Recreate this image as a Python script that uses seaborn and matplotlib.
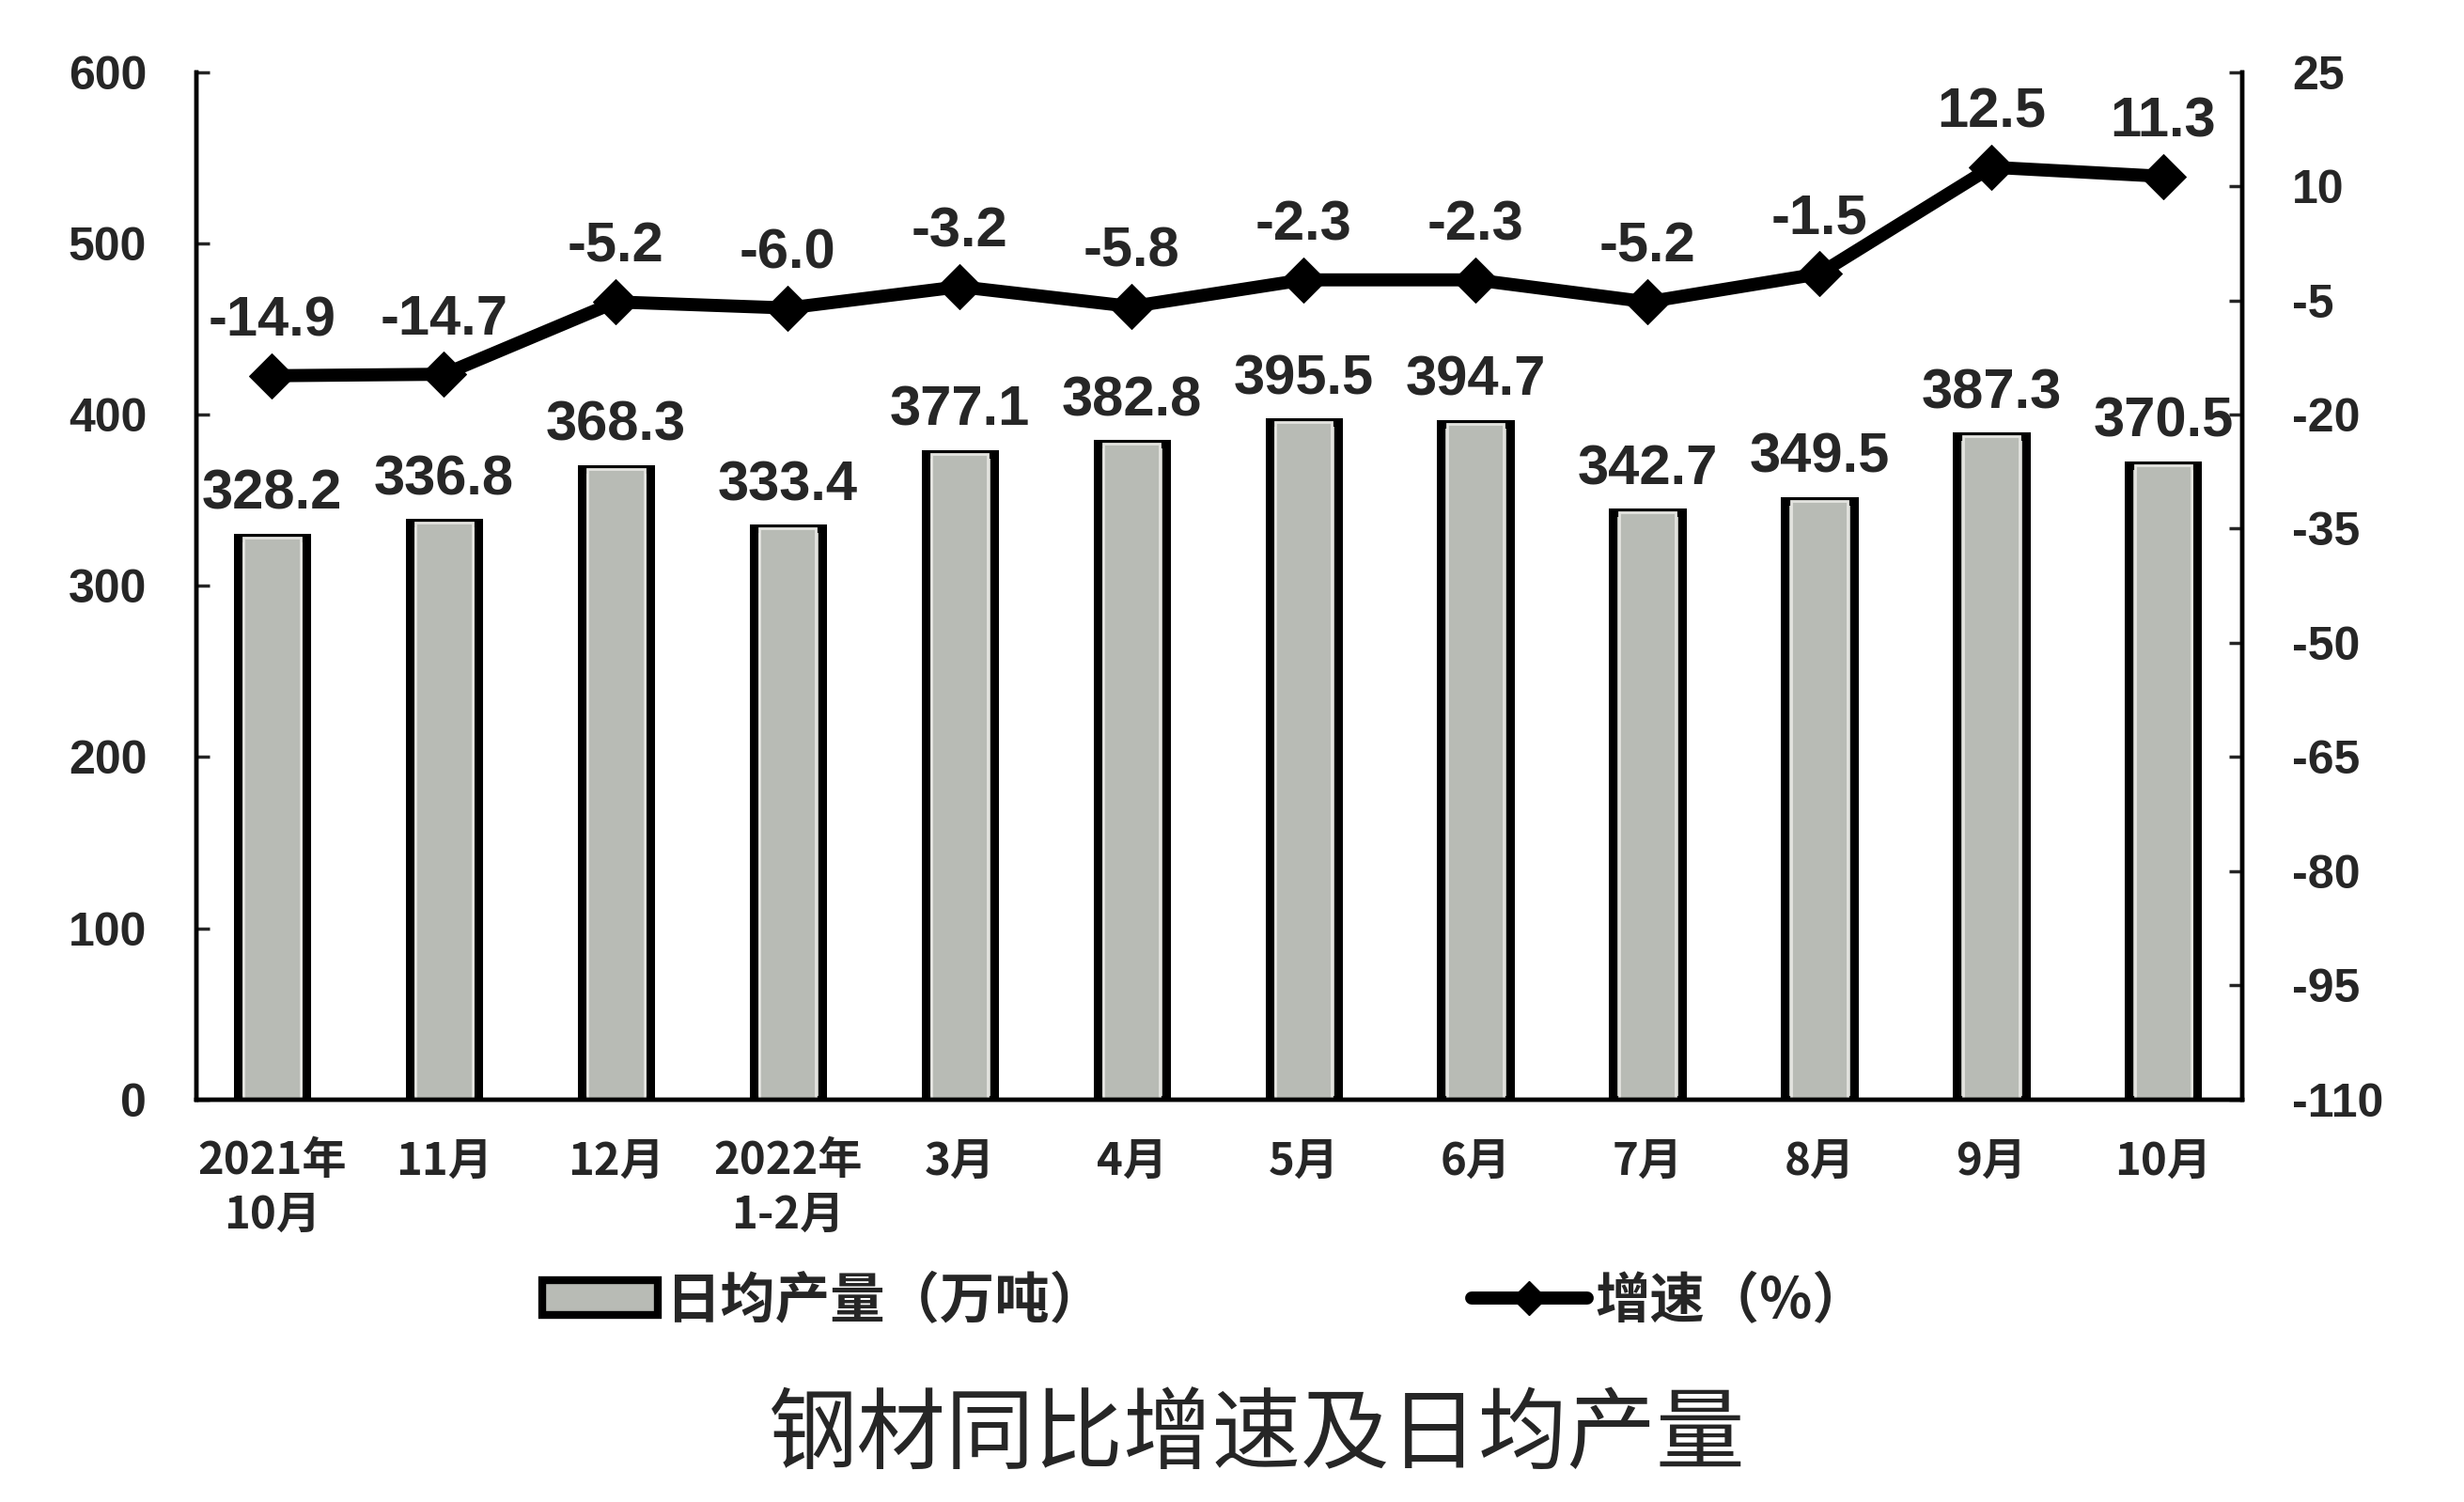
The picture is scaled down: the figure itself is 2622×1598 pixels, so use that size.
import numpy as np
import matplotlib
matplotlib.use('Agg')
import matplotlib.pyplot as plt
import seaborn as sns
from matplotlib.patches import Patch
from matplotlib.lines import Line2D

months = ['2021年\n10月', '11月', '12月', '2022年\n1-2月', '3月', '4月',
          '5月', '6月', '7月', '8月', '9月', '10月']
daily_output = [328.2, 336.8, 368.3, 333.4, 377.1, 382.8, 395.5, 394.7, 342.7, 349.5, 387.3, 370.5]
growth = [-14.9, -14.7, -5.2, -6.0, -3.2, -5.8, -2.3, -2.3, -5.2, -1.5, 12.5, 11.3]

sns.set_style("white")
plt.rcParams['font.family'] = ['Liberation Sans', 'Noto Sans CJK SC', 'DejaVu Sans']
plt.rcParams['axes.unicode_minus'] = False
cjk = ['Noto Sans CJK SC', 'DejaVu Sans']
bar_color = '#b8bbb5'

fig = plt.figure(figsize=(26.22, 15.98), dpi=100)
ax = fig.add_axes([0.0797, 0.268, 0.8303, 0.684])

# outer bars with thick black edge, then a light inner rim like the scan
sns.barplot(x=months, y=daily_output, ax=ax, color=bar_color, saturation=1,
            edgecolor='black', linewidth=6.5, width=0.4)
ax.bar_label(ax.containers[0], fmt='%.1f', padding=13, fontsize=43, fontweight='bold')
sns.barplot(x=months, y=daily_output, ax=ax, color=bar_color, saturation=1,
            edgecolor='#e4e4e0', linewidth=2, width=0.33)

ax2 = ax.twinx()
sns.lineplot(x=np.arange(len(months)), y=growth, ax=ax2, color='black', linewidth=10,
             marker='D', markersize=24, markeredgecolor='black', sort=False)
for i, v in enumerate(growth):
    ax2.annotate(f'{v:.1f}', (i, v), xytext=(0, 22), textcoords='offset points',
                 ha='center', va='bottom', fontsize=43, fontweight='bold')

ax.set_xlim(-0.44, len(months) - 0.54)
ax.set_ylim(0, 600)
ax.set_yticks(range(0, 601, 100))
ax2.set_ylim(-110, 25)
ax2.set_yticks(range(-110, 26, 15))

for a in (ax, ax2):
    a.spines['top'].set_visible(False)
    for s in ('left', 'right', 'bottom'):
        a.spines[s].set_linewidth(3.2)
        a.spines[s].set_color('black')

ax.tick_params(axis='y', direction='in', length=10, width=2.5, pad=38, labelsize=36)
ax2.tick_params(axis='y', direction='in', length=10, width=2.5, pad=38, labelsize=36)
for lab in ax.get_yticklabels() + ax2.get_yticklabels():
    lab.set_fontweight('bold')

ax.set_xticks(np.arange(len(months)))
ax.set_xticklabels(months, family=cjk, fontweight='bold', fontsize=34, linespacing=1.25)
ax.tick_params(axis='x', which='major', length=0, pad=30)
ax.set_xticks(np.arange(0.5, len(months) - 0.5, 1), minor=True)
ax.tick_params(axis='x', which='minor', direction='in', length=10, width=2.5)
ax.set_xlabel('')
ax.set_ylabel('')
ax2.set_ylabel('')

handles = [Patch(facecolor=bar_color, edgecolor='black', linewidth=6),
           Line2D([], [], color='black', linewidth=10, marker='D', markersize=18)]
fig.legend(handles, ['日均产量（万吨）', '增速（%）'], loc='center', bbox_to_anchor=(0.489, 0.134),
           ncol=2, frameon=False, handlelength=2.1, handleheight=0.6, columnspacing=6.7,
           handletextpad=0.15, prop={'family': cjk, 'weight': 'bold', 'size': 42})

fig.text(0.51, 0.043, '钢材同比增速及日均产量', family=cjk, fontsize=68, fontweight='medium',
         ha='center', va='center')

fig.savefig('out.png', dpi=100, facecolor='white')
